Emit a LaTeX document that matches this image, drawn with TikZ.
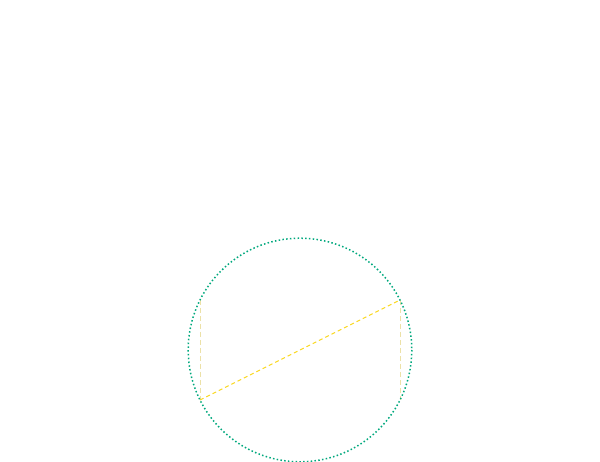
\documentclass[tikz,border=0pt]{standalone}
\definecolor{circgreen}{RGB}{0,168,125}
\definecolor{lineyellow}{RGB}{250,215,30}
\tikzset{
  circlestyle/.style={draw=circgreen, line width=1.5pt, dash pattern=on 1.5pt off 2.3pt},
  diagstyle/.style={draw=lineyellow, line width=1pt, dash pattern=on 4pt off 3pt},
  sidestyle/.style={draw=lineyellow!70!gray, line width=0.35pt, dash pattern=on 5pt off 3pt, opacity=0.45}
}
\begin{document}
\begin{tikzpicture}[x=1pt,y=-1pt]
\useasboundingbox (0,0) rectangle (600,462);
\coordinate (c) at (300,350);
\coordinate (tl) at (200,300);
\coordinate (tr) at (400,300);
\coordinate (bl) at (200,400);
\coordinate (br) at (400,400);
\draw[sidestyle] (tl) -- (bl);
\draw[sidestyle] (tr) -- (br);
\draw[diagstyle] (bl) -- (tr);
\draw[circlestyle] (c) circle [radius=111.8];
\end{tikzpicture}
\end{document}
